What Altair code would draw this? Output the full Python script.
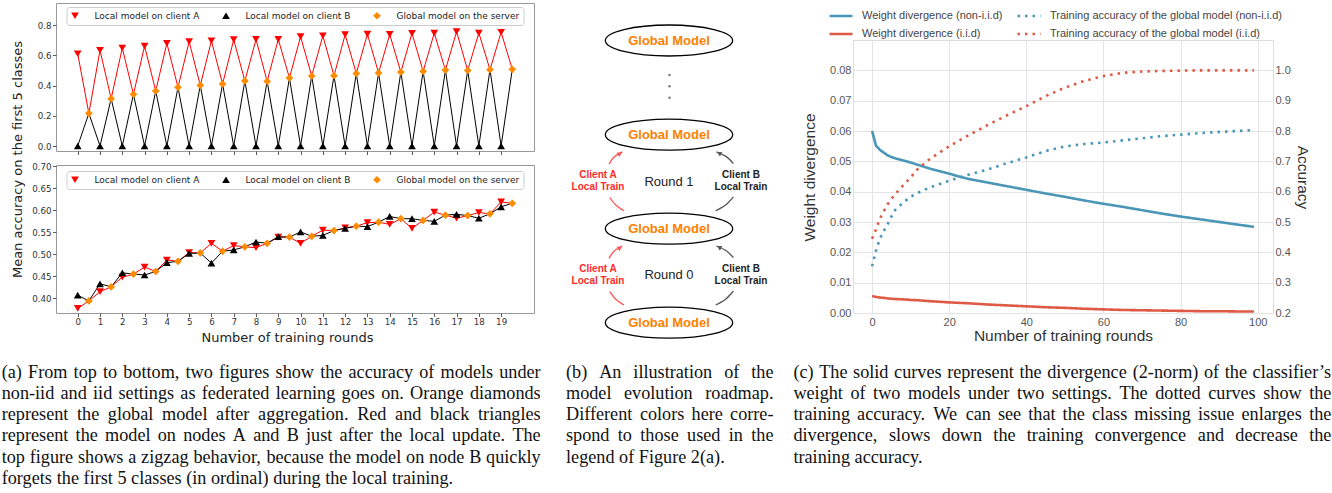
import altair as alt
import pandas as pd

# ================= Panel (a) data =================
rounds = [0, 1, 2, 3, 4, 5, 6, 7, 8, 9, 10, 11, 12, 13, 14, 15, 16, 17, 18, 19]
top_client_a = [0.610, 0.633, 0.648, 0.661, 0.679, 0.690, 0.696, 0.703, 0.705, 0.705,
                0.723, 0.729, 0.736, 0.740, 0.738, 0.745, 0.747, 0.756, 0.747, 0.752]
top_client_b = [0.0, 0.0, 0.0, 0.0, 0.0, 0.0, 0.0, 0.0, 0.0, 0.0,
                0.0, 0.0, 0.0, 0.0, 0.0, 0.0, 0.0, 0.0, 0.0, 0.0]
top_global = [0.216, 0.313, 0.342, 0.364, 0.388, 0.401, 0.410, 0.430, 0.428, 0.450,
              0.463, 0.465, 0.480, 0.483, 0.489, 0.494, 0.502, 0.500, 0.505, 0.507]
bot_client_a = [0.377, 0.415, 0.448, 0.471, 0.487, 0.504, 0.525, 0.520, 0.515, 0.539,
                0.525, 0.555, 0.560, 0.572, 0.568, 0.559, 0.596, 0.582, 0.595, 0.619]
bot_client_b = [0.407, 0.433, 0.458, 0.453, 0.481, 0.502, 0.480, 0.510, 0.528, 0.540,
                0.551, 0.543, 0.559, 0.563, 0.586, 0.581, 0.575, 0.591, 0.582, 0.608]
bot_global = [0.394, 0.426, 0.455, 0.461, 0.484, 0.503, 0.507, 0.517, 0.525, 0.539,
              0.541, 0.554, 0.564, 0.573, 0.581, 0.577, 0.589, 0.588, 0.592, 0.616]
a_names = ["Local model on client A", "Local model on client B", "Global model on the server"]
a_colors = ["#ff0000", "#000000", "#ff8c00"]
a_shapes = ["triangle-down", "triangle-up", "diamond"]
top_ticks = [0.0, 0.2, 0.4, 0.6, 0.8]
bot_ticks = [0.40, 0.45, 0.50, 0.55, 0.60, 0.65, 0.70]

# ================= Panel (c) data =================
c_rounds = [0, 1, 2, 3, 4, 5, 6, 8, 10, 12, 15, 20, 25, 30, 35, 40, 45, 50, 55, 60,
            65, 70, 75, 80, 85, 90, 95, 99]
div_noniid = [0.0600, 0.0552, 0.0538, 0.0529, 0.0520, 0.0514, 0.0510, 0.0503, 0.0496, 0.0488,
              0.0476, 0.0459, 0.0442, 0.0430, 0.0418, 0.0406, 0.0394, 0.0383, 0.0371, 0.0360,
              0.0350, 0.0339, 0.0328, 0.0318, 0.0309, 0.0300, 0.0291, 0.0284]
div_iid = [0.0056, 0.0053, 0.0051, 0.0050, 0.0048, 0.0047, 0.0046, 0.0045, 0.0043, 0.0042,
           0.0039, 0.0035, 0.0032, 0.0028, 0.0025, 0.0022, 0.0019, 0.0017, 0.0014, 0.0012,
           0.0010, 0.0009, 0.0008, 0.0007, 0.0006, 0.0006, 0.0005, 0.0005]
acc_noniid = [0.354, 0.405, 0.444, 0.470, 0.492, 0.518, 0.540, 0.563, 0.583, 0.597,
              0.614, 0.636, 0.656, 0.673, 0.694, 0.713, 0.734, 0.749, 0.757, 0.762,
              0.769, 0.776, 0.783, 0.788, 0.793, 0.797, 0.800, 0.803]
acc_iid = [0.445, 0.476, 0.510, 0.535, 0.558, 0.576, 0.592, 0.620, 0.647, 0.677,
           0.708, 0.750, 0.786, 0.820, 0.852, 0.882, 0.915, 0.943, 0.965, 0.981,
           0.992, 0.996, 0.998, 0.999, 1.000, 1.000, 1.000, 1.000]
# legend order (filled column by column): left column divergences, right column accuracies
c_names = ["Weight divergence (non-i.i.d)", "Weight divergence (i.i.d)",
           "Training accuracy of the global model (non-i.i.d)",
           "Training accuracy of the global model (i.i.d)"]
c_blue = "#4a96b6"
c_red = "#df5a44"
c_colors = [c_blue, c_red, c_blue, c_red]
c_dashes = [[1, 0], [1, 0], [2.5, 5], [2.5, 5]]
c_xticks = [0, 20, 40, 60, 80, 100]
c_div_ticks = [0.0, 0.01, 0.02, 0.03, 0.04, 0.05, 0.06, 0.07, 0.08]
c_acc_ticks = [0.2, 0.3, 0.4, 0.5, 0.6, 0.7, 0.8, 0.9, 1.0]

# ================= Panel (b) diagram (view units) =================
ell_x = [103.0, 103.0, 103.0, 103.0]
ell_y = [37.5, 131.7, 225.7, 319.7]
ell_label = ["Global Model", "Global Model", "Global Model", "Global Model"]
dots_x = [103.5, 103.5, 103.5]
dots_y = [72.0, 83.3, 94.7]
round_text = ["Round 1", "Round 0"]
round_x = [103.0, 103.0]
round_y = [179.0, 272.0]
client_a_text = ["Client A", "Local Train", "Client A", "Local Train"]
client_a_x = [32.0, 32.0, 32.0, 32.0]
client_b_text = ["Client B", "Local Train", "Client B", "Local Train"]
client_b_x = [175.0, 175.0, 175.0, 175.0]
client_y = [172.3, 184.0, 266.3, 277.6]
arc_colors = ["#ff5252", "#ff5252", "#ff5252", "#ff5252", "#555555", "#555555", "#555555", "#555555"]
arc_xs = [[58.0, 49.8, 43.7], [43.0, 48.3, 56.4], [58.0, 49.8, 43.7], [43.0, 48.3, 56.4],
          [149.7, 159.6, 167.4], [167.4, 160.3, 150.4], [149.7, 159.6, 167.4], [167.4, 160.3, 150.4]]
arc_ys = [[207.8, 202.0, 194.5], [161.1, 153.8, 148.8], [302.0, 296.2, 288.7], [255.3, 248.0, 243.0],
          [207.8, 202.0, 193.8], [160.5, 153.6, 148.8], [302.0, 296.2, 288.0], [254.7, 247.8, 243.0]]
arrow_x = [53.9, 53.9, 153.1, 153.1]
arrow_y = [150.5, 244.7, 150.2, 244.4]
arrow_angle = [55, 55, 297, 297]
arrow_color = ["#ff5252", "#ff5252", "#555555", "#555555"]
ELLIPSE = "M-1,0A1,0.2435,0,1,1,1,0A1,0.2435,0,1,1,-1,0Z"

# ================= Captions =================
cap_a = ["(a) From top to bottom, two figures show the accuracy of models under",
         "non-iid and iid settings as federated learning goes on. Orange diamonds",
         "represent the global model after aggregation. Red and black triangles",
         "represent the model on nodes A and B just after the local update. The",
         "top figure shows a zigzag behavior, because the model on node B quickly",
         "forgets the first 5 classes (in ordinal) during the local training."]
cap_b = ["(b) An illustration of the",
         "model evolution roadmap.",
         "Different colors here corre-",
         "spond to those used in the",
         "legend of Figure 2(a)."]
cap_c = ["(c) The solid curves represent the divergence (2-norm) of the classifier\u2019s",
         "weight of two models under two settings. The dotted curves show the",
         "training accuracy. We can see that the class missing issue enlarges the",
         "divergence, slows down the training convergence and decrease the",
         "training accuracy."]

# ================= Layout constants =================
A_W, A_H = 478, 148
B_W, B_H = 220, 310
C_W, C_H = 420, 273
CAP_H = 140
CAP_FS = 18.2
CAP_Y0 = 45.7
CAP_DY = 21.25

# Times-compatible advance widths (Liberation Serif) used to justify the caption lines
TW = {' ': 250, '(': 333, ')': 333, ',': 250, '-': 333, '.': 250, '\u2019': 333, "'": 180}
for ch in "0123456789":
    TW[ch] = 500
TW.update(dict(A=722, B=667, C=667, D=722, E=611, F=556, G=722, H=722, I=333, J=389, K=722,
               L=611, M=889, N=722, O=722, P=556, Q=722, R=667, S=556, T=611, U=722, V=722,
               W=944, X=722, Y=722, Z=611))
TW.update(dict(a=444, b=500, c=444, d=500, e=444, f=333, g=500, h=500, i=278, j=278, k=500,
               l=278, m=778, n=500, o=500, p=500, q=500, r=333, s=389, t=278, u=500, v=500,
               w=722, x=500, y=500, z=444))


def word_width(w):
    return sum(TW.get(ch, 500) for ch in w) / 1000.0 * CAP_FS


def justify(lines, x0, width):
    rows = []
    for li, line in enumerate(lines):
        words = line.split(" ")
        ws = [word_width(w) for w in words]
        last = li == len(lines) - 1
        if not last and len(words) > 1:
            gap = (width - sum(ws)) / (len(words) - 1)
        else:
            gap = 0.25 * CAP_FS
        x = x0
        for w, wd in zip(words, ws):
            rows.append({"line": li, "x": x, "word": w})
            x += wd + gap
    return pd.DataFrame(rows)


def caption_chart(lines, x0, width, view_w, anchor_x):
    df = justify(lines, x0, width)
    xs = alt.Scale(domain=[0, view_w], nice=False, zero=False)
    ys = alt.Scale(domain=[0, 5], range=[CAP_Y0, CAP_Y0 + 5 * CAP_DY], nice=False, zero=False)
    txt = alt.Chart(df).mark_text(
        align="left", baseline="middle", font="Liberation Serif", fontSize=CAP_FS, color="#111111"
    ).encode(x=alt.X("x:Q", scale=xs, axis=None), y=alt.Y("line:Q", scale=ys, axis=None), text="word:N")
    # invisible layout anchor that fixes the column's horizontal extent
    anchor = alt.Chart(pd.DataFrame({"x": [anchor_x], "line": [0]})).mark_point(
        size=0, opacity=0, strokeWidth=0).encode(
        x=alt.X("x:Q", scale=xs, axis=None), y=alt.Y("line:Q", scale=ys, axis=None))
    return alt.layer(txt, anchor).properties(width=view_w, height=CAP_H)


def spacer(w, h):
    return alt.Chart(pd.DataFrame({"v": [0]})).mark_point(opacity=0, size=0, strokeWidth=0).encode(
        x=alt.X("v:Q", axis=None), y=alt.Y("v:Q", axis=None)
    ).properties(width=w, height=h)


# ================= Panel (a) charts =================
def panel_a(ca, cb, gl, ydom, yticks, yfmt, bottom, leg_y):
    pts, red, blk = [], [], []
    for i, r in enumerate(rounds):
        g = r + 0.5
        pts += [{"x": r, "y": ca[i], "sa": a_names[0]},
                {"x": r, "y": cb[i], "sa": a_names[1]},
                {"x": g, "y": gl[i], "sa": a_names[2]}]
        red += [{"x": r, "y": ca[i], "o": 2 * i}, {"x": g, "y": gl[i], "o": 2 * i + 1}]
        blk += [{"x": r, "y": cb[i], "o": 2 * i}, {"x": g, "y": gl[i], "o": 2 * i + 1}]
    xs = alt.Scale(domain=[-0.975, 20.475], nice=False, zero=False)
    ys = alt.Scale(domain=ydom, nice=False, zero=False)
    common_x = dict(values=rounds, tickSize=3.5, tickColor="#333333", tickWidth=0.8, domain=False,
                    grid=False, labelFont="DejaVu Sans", labelFontSize=8.7, labelColor="#333333",
                    labelPadding=1, labels=bottom)
    common_y = dict(values=yticks, format=yfmt, tickSize=3.5, tickColor="#333333", tickWidth=0.8,
                    domain=False, grid=False, labelFont="DejaVu Sans", labelFontSize=8.7,
                    labelColor="#333333", labelPadding=1.5)
    if bottom:
        xax = alt.Axis(title="Number of training rounds", titleFont="DejaVu Sans", titleFontSize=13,
                       titleFontWeight="normal", titleColor="#222222", titleX=231, titleY=24,
                       titleBaseline="middle", titleAlign="center", **common_x)
        yax = alt.Axis(title=None, **common_y)
    else:
        xax = alt.Axis(title=None, **common_x)
        yax = alt.Axis(title="Mean accuracy on the first 5 classes", titleFont="DejaVu Sans",
                       titleFontSize=13, titleFontWeight="normal", titleColor="#222222",
                       titleX=-39, titleY=156, titleAngle=270, titleAlign="center",
                       titleBaseline="middle", **common_y)
    X = alt.X("x:Q", scale=xs, axis=xax)
    Y = alt.Y("y:Q", scale=ys, axis=yax)
    leg = alt.Legend(orient="none", legendX=10.5, legendY=leg_y, direction="horizontal", title=None,
                     labelFont="DejaVu Sans", labelFontSize=9, labelColor="#222222", labelOffset=15,
                     columnPadding=22, padding=4, strokeColor="#cccccc", fillColor="#ffffff",
                     cornerRadius=3, symbolSize=60, symbolStrokeWidth=0, symbolOpacity=1)
    red_line = alt.Chart(pd.DataFrame(red)).mark_line(color="#ff0000", strokeWidth=1).encode(
        x=X, y=Y, order="o:Q")
    blk_line = alt.Chart(pd.DataFrame(blk)).mark_line(color="#000000", strokeWidth=1).encode(
        x=X, y=Y, order="o:Q")
    points = alt.Chart(pd.DataFrame(pts)).mark_point(filled=True, size=60, opacity=1).encode(
        x=X, y=Y,
        color=alt.Color("sa:N", scale=alt.Scale(domain=a_names, range=a_colors), legend=leg),
        shape=alt.Shape("sa:N", scale=alt.Scale(domain=a_names, range=a_shapes), legend=leg),
    )
    return alt.layer(red_line, blk_line, points).properties(
        width=A_W, height=A_H, view=alt.ViewBackground(stroke="#999999", strokeWidth=1))


top_a = panel_a(top_client_a, top_client_b, top_global, [-0.033, 0.9455], top_ticks, ".1f", False, 4)
bot_a = panel_a(bot_client_a, bot_client_b, bot_global, [0.3666, 0.703], bot_ticks, ".2f", True, 6)

# ================= Panel (b) diagram =================
bx = alt.Scale(domain=[0, B_W], nice=False, zero=False)
by = alt.Scale(domain=[0, B_H], reverse=True, nice=False, zero=False)


def BX(f="x"):
    return alt.X(f + ":Q", scale=bx, axis=None)


def BY(f="y"):
    return alt.Y(f + ":Q", scale=by, axis=None)


arc_rows = []
for k, (xs_, ys_) in enumerate(zip(arc_xs, arc_ys)):
    for j, (xx, yy) in enumerate(zip(xs_, ys_)):
        arc_rows.append({"x": xx, "y": yy, "piece": k, "o": j, "c": arc_colors[k]})
arcs = alt.Chart(pd.DataFrame(arc_rows)).mark_line(strokeWidth=1.3, interpolate="natural").encode(
    x=BX(), y=BY(), detail="piece:N", order="o:Q", color=alt.Color("c:N", scale=None))
heads = alt.Chart(pd.DataFrame({"x": arrow_x, "y": arrow_y, "a": arrow_angle, "c": arrow_color})).mark_point(
    shape="triangle-up", filled=True, size=28, opacity=1).encode(
    x=BX(), y=BY(), angle=alt.Angle("a:Q", scale=None), color=alt.Color("c:N", scale=None))
ells = alt.Chart(pd.DataFrame({"x": ell_x, "y": ell_y})).mark_point(
    shape=ELLIPSE, size=16205, filled=True, fill="#ffffff", stroke="#000000", strokeWidth=1.3,
    opacity=1).encode(x=BX(), y=BY())
ell_txt = alt.Chart(pd.DataFrame({"x": ell_x, "y": ell_y, "t": ell_label})).mark_text(
    font="Liberation Sans", fontSize=13, fontWeight="bold", color="#ff8000", baseline="middle").encode(
    x=BX(), y=BY(), text="t:N")
dots = alt.Chart(pd.DataFrame({"x": dots_x, "y": dots_y})).mark_point(
    shape="circle", filled=True, size=6, color="#777777", opacity=1).encode(x=BX(), y=BY())
rounds_txt = alt.Chart(pd.DataFrame({"x": round_x, "y": round_y, "t": round_text})).mark_text(
    font="Liberation Sans", fontSize=13, color="#222222", baseline="middle").encode(
    x=BX(), y=BY(), text="t:N")
ca_txt = alt.Chart(pd.DataFrame({"x": client_a_x, "y": client_y, "t": client_a_text})).mark_text(
    font="Liberation Sans", fontSize=10, fontWeight="bold", color="#ff2a2a", baseline="middle").encode(
    x=BX(), y=BY(), text="t:N")
cb_txt = alt.Chart(pd.DataFrame({"x": client_b_x, "y": client_y, "t": client_b_text})).mark_text(
    font="Liberation Sans", fontSize=10, fontWeight="bold", color="#222222", baseline="middle").encode(
    x=BX(), y=BY(), text="t:N")
diagram = alt.layer(arcs, heads, ells, ell_txt, dots, rounds_txt, ca_txt, cb_txt).properties(
    width=B_W, height=B_H)

# ================= Panel (c) chart =================
div_rows, acc_rows = [], []
for i, r in enumerate(c_rounds):
    div_rows += [{"x": r, "v": div_noniid[i], "sc": c_names[0]}, {"x": r, "v": div_iid[i], "sc": c_names[1]}]
    acc_rows += [{"x": r, "v": acc_noniid[i], "sc": c_names[2]}, {"x": r, "v": acc_iid[i], "sc": c_names[3]}]
leg_c = alt.Legend(orient="none", legendX=-25, legendY=-37, columns=2, title=None,
                   labelFont="Liberation Sans", labelFontSize=11, labelColor="#444444",
                   labelLimit=400, symbolType="stroke", symbolSize=529, symbolStrokeWidth=2.5,
                   labelOffset=8, columnPadding=9, rowPadding=-8, padding=0)
cx = alt.X("x:Q", scale=alt.Scale(domain=[-4.95, 103.95], nice=False, zero=False),
           axis=alt.Axis(values=c_xticks, grid=True, gridColor="#e5e5e5", tickSize=0, domain=False,
                         labelFont="Liberation Sans", labelFontSize=11, labelColor="#555555",
                         labelPadding=3, title="Number of training rounds", titleFont="Liberation Sans",
                         titleFontSize=15.5, titleFontWeight="normal", titleColor="#333333",
                         titleY=22.5, titleBaseline="middle"))
ccol = alt.Color("sc:N", scale=alt.Scale(domain=c_names, range=c_colors), legend=leg_c)
cdash = alt.StrokeDash("sc:N", scale=alt.Scale(domain=c_names, range=c_dashes), legend=leg_c)
div_layer = alt.Chart(pd.DataFrame(div_rows)).mark_line(strokeWidth=2.6).encode(
    x=cx,
    y=alt.Y("v:Q", scale=alt.Scale(domain=[0, 0.09], nice=False, zero=False),
            axis=alt.Axis(values=c_div_ticks, format=".2f", grid=True, gridColor="#e5e5e5", tickSize=0,
                          domain=False, labelFont="Liberation Sans", labelFontSize=11,
                          labelColor="#555555", labelPadding=2, title="Weight divergence",
                          titleFont="Liberation Sans", titleFontSize=15.5, titleFontWeight="normal",
                          titleColor="#333333", titleX=-44, titleY=137, titleAngle=270,
                          titleAlign="center", titleBaseline="middle")),
    color=ccol, strokeDash=cdash)
acc_layer = alt.Chart(pd.DataFrame(acc_rows)).mark_line(strokeWidth=2.6).encode(
    x=cx,
    y=alt.Y("v:Q", scale=alt.Scale(domain=[0.2, 1.1], nice=False, zero=False),
            axis=alt.Axis(orient="right", values=c_acc_ticks, format=".1f", grid=False, tickSize=0,
                          domain=False, labelFont="Liberation Sans", labelFontSize=11,
                          labelColor="#555555", labelPadding=2, title="Accuracy",
                          titleFont="Liberation Sans", titleFontSize=15.5, titleFontWeight="normal",
                          titleColor="#333333", titleX=29, titleY=137, titleAngle=90,
                          titleAlign="center", titleBaseline="middle")),
    color=ccol, strokeDash=cdash)
chart_c = alt.layer(div_layer, acc_layer).resolve_scale(y="independent").properties(
    width=C_W, height=C_H, view=alt.ViewBackground(stroke="#dddddd", strokeWidth=1))

# ================= Captions =================
cap_a_chart = caption_chart(cap_a, -54.3, 539, A_W, 510)
cap_b_chart = caption_chart(cap_b, 0, 207.5, B_W, 225)
cap_c_chart = caption_chart(cap_c, -59.6, 538, C_W, -61)

col_a = alt.vconcat(top_a, bot_a, cap_a_chart, spacing=14, bounds="flush").resolve_scale(
    color="independent", shape="independent")
col_b = alt.vconcat(diagram, cap_b_chart, spacing=14, bounds="flush")
col_c = alt.vconcat(spacer(C_W, 23), chart_c, cap_c_chart, spacing=14, bounds="flush").resolve_scale(
    color="independent", strokeDash="independent")

chart = alt.hconcat(col_a, col_b, col_c, spacing=0, bounds="full").properties(
    padding={"left": 1, "top": 2, "right": 0, "bottom": 0}, background="white",
).resolve_scale(
    color="independent", shape="independent", strokeDash="independent"
).configure_view(strokeWidth=0)

chart.save("out.html", embed_options={"renderer": "svg", "actions": False})
